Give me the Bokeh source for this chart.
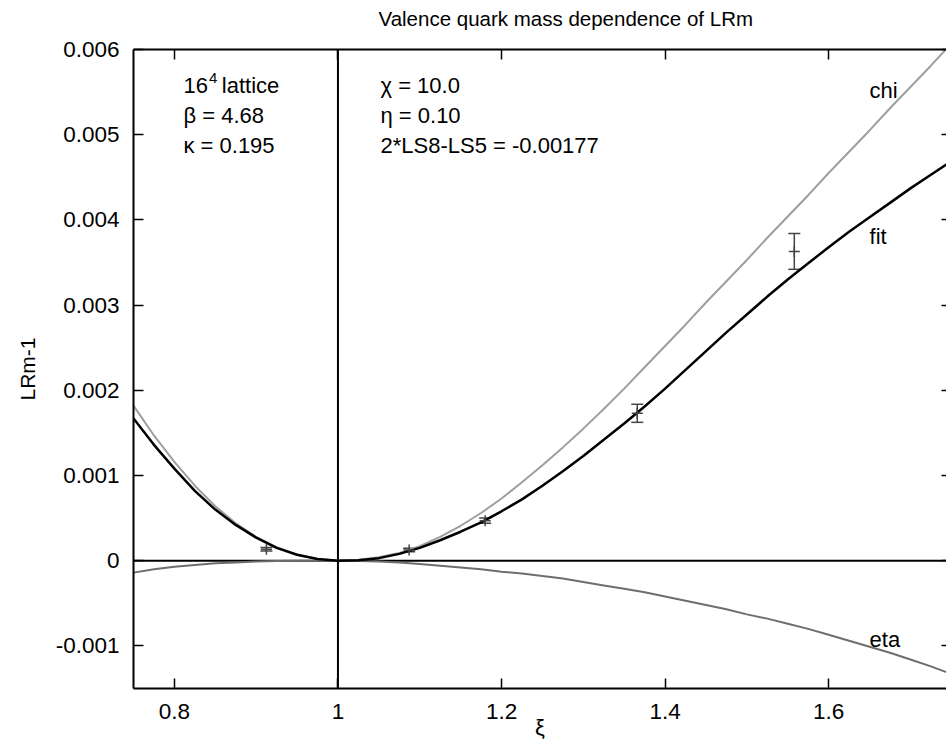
from bokeh.plotting import figure
from bokeh.models import (Range1d, LinearAxis, FixedTicker, Span, Label, Whisker,
                          ColumnDataSource, TeeHead)
from bokeh.embed import file_html
from bokeh.resources import INLINE

# ---------------- data ----------------
xi = [0.750, 0.775, 0.800, 0.825, 0.850, 0.875, 0.900, 0.925, 0.950, 0.975,
      1.000, 1.025, 1.050, 1.075, 1.100, 1.125, 1.150, 1.175, 1.200, 1.225,
      1.250, 1.275, 1.300, 1.325, 1.350, 1.375, 1.400, 1.425, 1.450, 1.475,
      1.500, 1.525, 1.550, 1.575, 1.600, 1.625, 1.650, 1.675, 1.700, 1.725,
      1.750]
fit = [0.00167, 0.00136, 0.00108, 0.00082, 0.00060, 0.00042, 0.00027, 0.00015,
       0.00007, 0.00002, 0.0, 0.000005, 0.00003, 0.00008, 0.00015, 0.00024,
       0.00034, 0.00045, 0.00058, 0.00072, 0.00088, 0.00105, 0.00123, 0.00142,
       0.00161, 0.00181, 0.00202, 0.00224, 0.00246, 0.00268, 0.00289, 0.00310,
       0.00330, 0.00349, 0.00368, 0.00386, 0.00403, 0.00420, 0.00437, 0.00453,
       0.00469]
chi = [0.00182, 0.00147, 0.00116, 0.00088, 0.00064, 0.00044, 0.00028, 0.00016,
       0.00007, 0.00002, 0.0, 0.00001, 0.00004, 0.00009, 0.00017, 0.00028,
       0.00041, 0.00056, 0.00073, 0.00092, 0.00112, 0.00133, 0.00155, 0.00178,
       0.00202, 0.00227, 0.00252, 0.00277, 0.00303, 0.00328, 0.00353, 0.00379,
       0.00404, 0.00429, 0.00455, 0.00480, 0.00505, 0.00531, 0.00556, 0.00581,
       0.00607]
eta = [-0.00014, -0.00010, -0.00007, -0.00005, -0.00003, -0.00002, -0.00001,
       -0.000004, -0.000001, 0.0, 0.0, -0.000003, -0.00001, -0.00002, -0.00004,
       -0.00006, -0.00008, -0.00010, -0.00013, -0.00015, -0.00018, -0.00021,
       -0.00025, -0.00029, -0.00033, -0.00037, -0.00042, -0.00047, -0.00052,
       -0.00057, -0.00063, -0.00068, -0.00074, -0.00080, -0.00087, -0.00094,
       -0.00101, -0.00108, -0.00116, -0.00124, -0.00133]

pt_x = [0.9125, 1.087, 1.180, 1.366, 1.558]
pt_y = [0.000135, 0.000125, 0.00047, 0.00173, 0.00363]
pt_err = [0.00002, 0.00002, 0.00003, 0.000106, 0.00021]

x_ticks = [0.8, 1.0, 1.2, 1.4, 1.6]
x_tick_labels = ["0.8", "1", "1.2", "1.4", "1.6"]
y_ticks = [-0.001, 0.0, 0.001, 0.002, 0.003, 0.004, 0.005, 0.006]
y_tick_labels = ["-0.001", "0", "0.001", "0.002", "0.003", "0.004", "0.005", "0.006"]

title_text = "Valence quark mass dependence of LRm"
x_label = "ξ"
y_label = "LRm-1"

FONT = "Liberation Sans"

# ---------------- figure ----------------
p = figure(width=946, height=743, output_backend="svg", toolbar_location=None,
           x_range=Range1d(0.75, 1.7441), y_range=Range1d(-0.0015, 0.006),
           min_border_left=133, min_border_right=0, min_border_top=49,
           min_border_bottom=55)
p.background_fill_color = "white"
p.border_fill_color = "white"
p.outline_line_color = None
p.grid.visible = False

p.title.text = title_text
p.title.text_font = FONT
p.title.text_font_style = "normal"
p.title.text_font_size = "20.5px"
p.title.text_color = "black"
p.title.align = "left"
p.title.offset = 245
p.title.standoff = 0

def style_axis(ax, ticks, labels=None, tick_in=10):
    ax.ticker = FixedTicker(ticks=ticks)
    ax.major_tick_in = tick_in
    ax.major_tick_out = 0
    ax.minor_tick_in = 0
    ax.minor_tick_out = 0
    ax.minor_tick_line_color = None
    ax.major_tick_line_color = "black"
    ax.major_tick_line_width = 1.5
    ax.axis_line_color = "black"
    ax.axis_line_width = 2
    if labels is not None:
        ax.major_label_overrides = dict(zip(ticks, labels))
        ax.major_label_text_font = FONT
        ax.major_label_text_font_size = "22.5px"
        ax.major_label_text_color = "black"
    else:
        ax.major_label_text_color = None

xa = p.xaxis[0]
style_axis(xa, x_ticks, x_tick_labels)
xa.major_label_standoff = 15
xa.axis_label = x_label
xa.axis_label_text_font = FONT
xa.axis_label_text_font_style = "normal"
xa.axis_label_text_font_size = "22px"
xa.axis_label_text_color = "black"
xa.axis_label_standoff = -7

ya = p.yaxis[0]
style_axis(ya, y_ticks, y_tick_labels)
ya.major_label_standoff = 14
ya.axis_label = y_label
ya.axis_label_text_font = FONT
ya.axis_label_text_font_style = "normal"
ya.axis_label_text_font_size = "21px"
ya.axis_label_text_color = "black"
ya.axis_label_standoff = 14

# mirrored ticks on top
top = LinearAxis()
style_axis(top, x_ticks)
p.add_layout(top, "above")

# invisible spacer between frame and title
spacer = LinearAxis()
style_axis(spacer, x_ticks, tick_in=0)
spacer.major_tick_out = 20
spacer.major_tick_line_color = None
spacer.axis_line_color = None
p.add_layout(spacer, "above")

# mirrored (clipped) ticks on the right
right = LinearAxis()
style_axis(right, y_ticks, tick_in=5)
right.axis_line_color = None
right.major_label_text_font_size = "0px"
right.major_label_standoff = 0
p.add_layout(right, "right")

# zero lines
p.add_layout(Span(location=0.0, dimension="width", line_color="black",
                  line_width=2, level="underlay"))
p.add_layout(Span(location=1.0, dimension="height", line_color="black",
                  line_width=2, level="underlay"))

# curves
p.line(xi, eta, line_color="#6e6e6e", line_width=2)
p.line(xi, chi, line_color="#9e9e9e", line_width=2)
p.line(xi, fit, line_color="black", line_width=2.5)

# data points with error bars
src = ColumnDataSource(dict(
    x=pt_x, y=pt_y,
    lo=[a - b for a, b in zip(pt_y, pt_err)],
    hi=[a + b for a, b in zip(pt_y, pt_err)]))
p.add_layout(Whisker(source=src, base="x", lower="lo", upper="hi",
                     line_color="#444444", line_width=1.5,
                     upper_head=TeeHead(size=12, line_color="#444444", line_width=1.5),
                     lower_head=TeeHead(size=12, line_color="#444444", line_width=1.5)))
p.scatter("x", "y", source=src, marker="cross", size=11,
          line_color="#444444", line_width=1.5)

def lab(x, y, t, size="22px", align="left", color="black"):
    p.add_layout(Label(x=x, y=y, text=t, text_font=FONT, text_font_size=size,
                       text_align=align, text_baseline="middle", text_color=color))

# annotations (left block)
lab(0.8111, 0.00558, "16")
lab(0.8423, 0.00567, "4", size="15px")
lab(0.8580, 0.00558, "lattice")
lab(0.8111, 0.00522, "β = 4.68")
lab(0.8111, 0.00487, "κ = 0.195")
# right block
lab(1.052, 0.00558, "χ = 10.0")
lab(1.052, 0.00522, "η = 0.10")
lab(1.052, 0.00487, "2*LS8-LS5 = -0.00177")
# curve labels
lab(1.650, 0.00552, "chi")
lab(1.650, 0.00381, "fit")
lab(1.650, -0.00092, "eta")

open("out.html", "w").write(file_html(p, INLINE))
